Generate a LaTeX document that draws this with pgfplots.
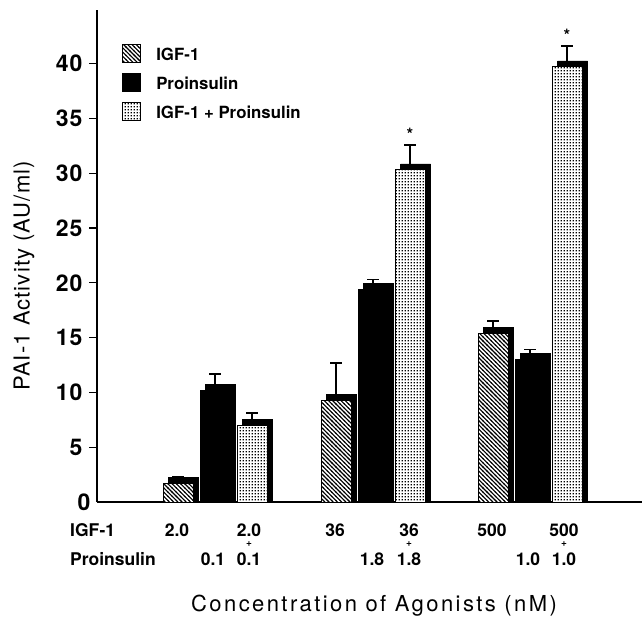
\documentclass[border=0pt]{standalone}
\usepackage{fontspec}
\setmainfont{TeX Gyre Heros}
\newfontfamily\titlefont[LetterSpace=11]{TeX Gyre Heros}
\newfontfamily\ytitlefont[LetterSpace=5]{TeX Gyre Heros}
\newfontfamily\tickfont[LetterSpace=4]{TeX Gyre Heros}
\usepackage{pgfplots}
\usepackage{pgfplotstable}
\pgfplotsset{compat=1.18}
\usetikzlibrary{patterns}

% fill patterns close to the scanned ones
\pgfdeclarepatternformonly{hatch}{\pgfqpoint{-1pt}{-1pt}}{\pgfqpoint{5.2pt}{5.2pt}}{\pgfqpoint{4.2pt}{4.2pt}}{
  \pgfsetlinewidth{1.1pt}
  \pgfpathmoveto{\pgfqpoint{-0.5pt}{4.7pt}}
  \pgfpathlineto{\pgfqpoint{4.7pt}{-0.5pt}}
  \pgfusepath{stroke}}
\pgfdeclarepatternformonly{sqdots}{\pgfqpoint{0pt}{0pt}}{\pgfqpoint{3.2pt}{3.2pt}}{\pgfqpoint{3.2pt}{3.2pt}}{
  \pgfpathrectangle{\pgfqpoint{0.8pt}{0.8pt}}{\pgfqpoint{1.5pt}{1.5pt}}
  \pgfusepath{fill}}

% x = bar centre (same units as the page, pt), y = mean, e = upper error
\pgfplotstableread{
x   y    e
178 1.7  0.6
336 9.3  3.4
493 15.4 1.1
}\igf
\pgfplotstableread{
x   y    e
215 10.2 1.5
373 19.4 0.9
530 13.0 0.9
}\pro
\pgfplotstableread{
x   y    e
252 7.0  1.1
410 30.3 2.3
567 39.7 1.9
}\comb

\begin{document}
\begin{tikzpicture}[x=1pt,y=1pt]
\useasboundingbox (0,0) rectangle (642,635);
\begin{axis}[
  at={(97pt,133pt)}, anchor=south west,
  scale only axis, width=545pt, height=492pt,
  xmin=97, xmax=642, ymin=0, ymax=44.9,
  axis lines=left, axis line style={-, line width=1.3pt},
  ytick={5,10,...,40}, xtick=\empty,
  extra y ticks={0}, extra y tick style={major tick length=0pt},
  tick align=outside, major tick length=8pt,
  tick style={line width=1.3pt, black},
  yticklabel style={font=\tickfont\bfseries\fontsize{23}{26}\selectfont, xshift=-3pt},
  /pgf/number format/assume math mode=true,
  ybar, bar width=30pt, bar shift=0pt,
  clip=false,
  legend style={at={(rel axis cs:0.046,0.931)}, anchor=north west,
    draw=none, fill=none, font=\bfseries\fontsize{16.8}{20}\selectfont,
    row sep=10pt, inner sep=0pt,
    nodes={inner sep=0pt}},
  legend cell align=left,
  legend image code/.code={\draw[#1, line width=1pt] (0pt,-8pt) rectangle (18pt,10pt);
    \path (33pt,0pt);},
  shadow/.style={fill=black, draw=black, forget plot, bar shift=5.5pt},
  front/.style={draw=black, line width=1pt,
    error bars/y dir=plus, error bars/y explicit,
    error bars/error bar style={line width=1.5pt, black},
    error bars/error mark options={rotate=90, mark size=6pt, line width=1.5pt, black}},
]
% IGF-1
\addplot[shadow] table[x=x, y expr=\thisrow{y}+0.55] {\igf};
\addplot[front, fill=white, postaction={pattern=hatch}] table[x=x, y=y, y error=e] {\igf};
% Proinsulin
\addplot[shadow] table[x=x, y expr=\thisrow{y}+0.55] {\pro};
\addplot[front, fill=black] table[x=x, y=y, y error=e] {\pro};
% IGF-1 + Proinsulin
\addplot[shadow] table[x=x, y expr=\thisrow{y}+0.55] {\comb};
\addplot[front, fill=white, postaction={pattern=sqdots}] table[x=x, y=y, y error=e] {\comb};
\legend{IGF-1, Proinsulin, IGF-1 + Proinsulin}
\node[font=\bfseries\fontsize{17}{19}\selectfont] at (axis cs:410,33.6) {*};
\node[font=\bfseries\fontsize{17}{19}\selectfont] at (axis cs:567,42.6) {*};
\end{axis}

% y and x axis titles
\node[rotate=90, font=\ytitlefont\fontsize{22}{26}\selectfont] at (24,359) {PAI-1 Activity (AU/ml)};
\node[font=\titlefont\fontsize{22}{26}\selectfont] at (374,29) {Concentration of Agonists (nM)};

% concentration rows below the bars
\begin{scope}[every node/.style={font=\bfseries\fontsize{17.5}{20}\selectfont, inner sep=0pt}]
\node[anchor=west] at (70,105) {IGF-1};
\node[anchor=west] at (70,76) {Proinsulin};
\foreach \xx/\tt in {177/2.0, 249/2.0, 335/36, 409/36, 492/500, 564/500}
  \node at (\xx,105) {\tt};
\foreach \xx/\tt in {213/0.1, 249/0.1, 372/1.8, 409/1.8, 528/1.0, 564/1.0}
  \node at (\xx,76) {\tt};
\foreach \xx in {249, 409, 564}
  \node[font=\bfseries\fontsize{10}{11}\selectfont] at (\xx,90.5) {+};
\end{scope}
\end{tikzpicture}
\end{document}
